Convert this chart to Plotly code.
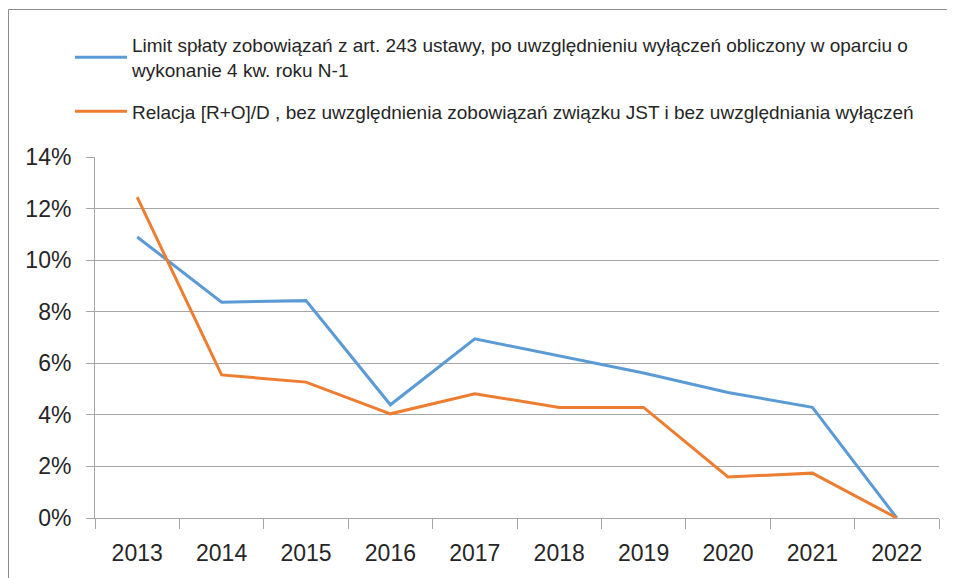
import plotly.graph_objects as go

years = ["2013", "2014", "2015", "2016", "2017", "2018", "2019", "2020", "2021", "2022"]
limit_vals = [10.9, 8.37, 8.43, 4.39, 6.95, 6.29, 5.62, 4.87, 4.29, 0.0]
relacja_vals = [12.44, 5.55, 5.27, 4.04, 4.82, 4.29, 4.29, 1.59, 1.74, 0.0]
limit_name = "Limit spłaty zobowiązań z art. 243 ustawy, po uwzględnieniu wyłączeń obliczony w oparciu o<br>wykonanie 4 kw. roku N-1"
relacja_name = "Relacja [R+O]/D , bez uwzględnienia zobowiązań związku JST i bez uwzględniania wyłączeń"
y_ticks = [0, 2, 4, 6, 8, 10, 12, 14]
y_tick_labels = ["0%", "2%", "4%", "6%", "8%", "10%", "12%", "14%"]

fig = go.Figure()
fig.add_trace(go.Scatter(x=years, y=limit_vals, mode="lines", name=limit_name,
                         legendgroup="a", line=dict(color="#5B9BD5", width=3)))
fig.add_trace(go.Scatter(x=years, y=relacja_vals, mode="lines", name=relacja_name,
                         legendgroup="b", line=dict(color="#ED7D31", width=3)))

W, H = 955, 578
ml, mr, mt, mb = 87, 24, 149, 68
pw, ph = W - ml - mr, H - mt - mb

fig.update_layout(
    width=W, height=H,
    margin=dict(l=ml, r=mr, t=mt, b=mb, autoexpand=False),
    paper_bgcolor="white", plot_bgcolor="white",
    font=dict(family="Liberation Sans, Arial, sans-serif", color="#262626"),
    showlegend=True,
    legend=dict(
        xref="container", yref="container",
        x=62 / W, y=1 - 18 / H, xanchor="left", yanchor="top",
        font=dict(size=19, family="Liberation Sans, sans-serif", color="#262626"),
        itemwidth=52, tracegroupgap=14,
        bgcolor="rgba(0,0,0,0)",
    ),
    xaxis=dict(
        type="category", tickson="boundaries", ticks="outside", ticklen=10,
        tickcolor="#A6A6A6", showline=True, linecolor="#A6A6A6", linewidth=1,
        showgrid=False, tickfont=dict(size=23), ticklabelstandoff=14,
        range=[-0.5, 9.5], automargin=False,
    ),
    yaxis=dict(
        range=[0, 14], tickvals=y_ticks, ticktext=y_tick_labels,
        ticks="outside", ticklen=8, tickcolor="#A6A6A6",
        showline=True, linecolor="#A6A6A6", linewidth=1,
        showgrid=True, gridcolor="#A6A6A6", gridwidth=1,
        tickfont=dict(size=23), ticklabelstandoff=10, zeroline=False,
        automargin=False,
    ),
    shapes=[dict(type="rect", xref="paper", yref="paper",
                 x0=(0.5 - ml) / pw, x1=(W + 10 - ml) / pw,
                 y0=(H - mb - H - 10) / ph, y1=(H - mb - 1.5) / ph,
                 line=dict(color="#8C8C8C", width=1), fillcolor="rgba(0,0,0,0)", layer="below")],
)

fig.write_html("out.html")
